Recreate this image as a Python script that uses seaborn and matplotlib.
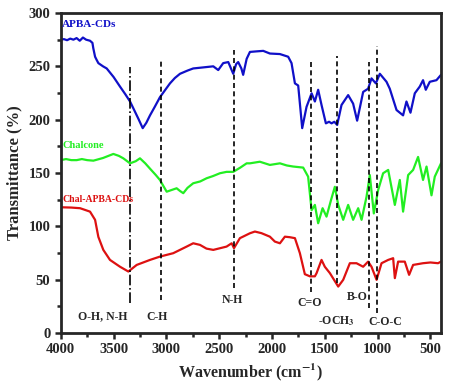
import matplotlib
matplotlib.use("Agg")
import matplotlib.pyplot as plt
from matplotlib.ticker import MultipleLocator
import pandas as pd
import seaborn as sns

# APBA-CDs (blue)
apba_wn = [4000, 3970, 3940, 3910, 3880, 3850, 3820, 3790, 3760, 3723, 3700, 3692,
           3675, 3660, 3644, 3600, 3565, 3500, 3439, 3390, 3344, 3300, 3266, 3224,
           3190, 3155, 3110, 3061, 3010, 2966, 2920, 2871, 2800, 2746, 2650, 2556,
           2509, 2462, 2414, 2367, 2340, 2320, 2290, 2273, 2240, 2209, 2150, 2083,
           2020, 1925, 1847, 1815, 1783, 1752, 1714, 1673, 1625, 1594, 1563, 1531,
           1490, 1460, 1436, 1410, 1383, 1342, 1279, 1232, 1194, 1137, 1090, 1058,
           1017, 979, 916, 885, 821, 759, 727, 689, 648, 601, 570, 544, 506, 443, 400]
apba_t = [275, 275.5, 274.5, 276, 275, 276.5, 274, 277, 275, 274, 272, 267,
          259, 256, 253, 250, 248, 240, 231, 224, 217, 208, 201, 192,
          197, 204, 212, 221, 228, 234, 239, 243, 246, 248, 249, 250,
          246.5, 253, 254, 243, 252, 254, 248, 242, 257, 263.5, 264, 264.5,
          262, 261.5, 259, 253, 234, 232, 192, 212, 224.7, 217, 228, 213.7,
          196.5, 198, 196.5, 198, 195, 213.7, 223, 215, 199, 226, 229, 238.7,
          234, 243, 235.5, 229, 209, 204, 217, 206.5, 224.7, 231, 237, 228, 235.5, 237, 242]

# Chalcone (green)
chal_wn = [4000, 3950, 3900, 3849, 3800, 3750, 3691, 3600, 3502, 3450, 3408, 3344,
           3290, 3250, 3200, 3155, 3100, 3061, 3030, 2997, 2950, 2903, 2870, 2840,
           2800, 2746, 2680, 2619, 2560, 2493, 2430, 2367, 2300, 2240, 2209, 2115,
           2020, 1925, 1860, 1800, 1705, 1658, 1625, 1594, 1563, 1521, 1484, 1440,
           1405, 1373, 1326, 1279, 1232, 1184, 1152, 1105, 1074, 1036, 995, 948,
           900, 837, 790, 759, 711, 664, 617, 570, 537, 490, 459, 400]
chal_t = [162, 163, 162, 162, 163, 162, 161.5, 164, 167.8, 166, 163.7, 159,
          161, 163.7, 159, 154, 148, 143.4, 138, 132.4, 134, 135.6, 133, 131,
          136, 140.3, 142, 145, 147, 149.7, 151, 151, 155, 159, 159, 160.5,
          157.5, 159, 157, 156, 155, 146.5, 115, 120, 102.8, 116.9, 109, 125,
          137, 120, 106, 120, 106, 116.9, 106, 127.7, 148, 112, 134, 149.7,
          152.8, 120, 143.4, 113.7, 148, 152.8, 165, 143.4, 156, 129, 146.5, 159]

# Chal-APBA-CDs (red)
conj_wn = [4000, 3900, 3817, 3723, 3675, 3644, 3597, 3534, 3439, 3360, 3281, 3155,
           3061, 2935, 2808, 2746, 2682, 2620, 2556, 2430, 2382, 2360, 2304, 2209,
           2162, 2100, 2020, 1973, 1925, 1878, 1831, 1783, 1736, 1689, 1641, 1594,
           1578, 1531, 1500, 1452, 1373, 1326, 1263, 1200, 1137, 1090, 1058, 1010,
           963, 900, 853, 837, 806, 743, 702, 664, 570, 500, 428, 400]
conj_t = [117.8, 117.5, 116.9, 113.7, 106, 90, 77.8, 68.4, 62, 57.5, 63.7, 68.4,
          71.5, 74.7, 80.9, 84, 82.5, 79, 77.8, 80.9, 84, 79.4, 88.8, 93.4,
          95, 93.5, 90.2, 85.6, 84, 90.2, 89.7, 88.8, 74.7, 55, 53, 53,
          56, 68.4, 62, 56, 43.4, 49.7, 65.3, 65.3, 62, 66.8, 62, 49.7,
          65.3, 68.4, 70, 51.3, 66.8, 66.8, 54.4, 63.7, 65.3, 66, 65.3, 66.8]

# band marker lines
band_wn = [3340, 3050, 2360, 1632, 1380, 1080, 1007]
band_top = [249, 255, 265, 256, 260, 254, 269]
band_bottom = [28, 31, 42, 38, 47, 23, 19]
band_style = ["-.", (0, (3, 2)), (0, (3, 2)), (0, (3, 2)), (0, (3, 2)), (0, (3, 2)), (0, (3, 2))]

# band labels
label_text = ["O-H, N-H", "C-H", "N-H", "C=O", "-OCH$_\\mathbf{3}$", "B-O", "C-O-C"]
label_wn = [3604, 3092, 2375, 1642, 1386, 1192, 932]
label_t = [15.3, 15.3, 31, 28, 10.6, 34, 10.6]

series_names = ["APBA-CDs", "Chalcone", "Chal-APBA-CDs"]
series_colors = ["#1010c8", "#22ee22", "#dd1111"]
series_label_t = [289, 175.5, 125]
series_label_size = [8, 7.5, 7]

sns.set_style("ticks")
plt.rcParams["font.family"] = ["Liberation Serif", "DejaVu Serif"]
plt.rcParams["font.weight"] = "bold"
plt.rcParams["mathtext.fontset"] = "stix"

fig = plt.figure(figsize=(4.5, 3.83), dpi=100)
ax = fig.add_axes([0.135, 0.131, 0.845, 0.835])

data = [(apba_wn, apba_t), (chal_wn, chal_t), (conj_wn, conj_t)]
for (wn, t), name, col in zip(data, series_names, series_colors):
    df = pd.DataFrame({"wn": wn, "t": t})
    sns.lineplot(data=df, x="wn", y="t", sort=False, color=col, lw=1.6, ax=ax)

for w, top, bot, ls in zip(band_wn, band_top, band_bottom, band_style):
    ax.plot([w, w], [bot, top], color="black", lw=1.2, linestyle=ls)

for txt, w, t in zip(label_text, label_wn, label_t):
    ax.text(w, t, txt, ha="center", va="center", fontsize=8.5, fontweight="bold")

for name, col, t, fs in zip(series_names, series_colors, series_label_t, series_label_size):
    ax.text(3985, t, name, color=col, ha="left", va="center", fontsize=fs, fontweight="bold")

ax.set_xlim(4000, 400)
ax.set_ylim(0, 300)
ax.xaxis.set_major_locator(MultipleLocator(500))
ax.xaxis.set_minor_locator(MultipleLocator(250))
ax.yaxis.set_major_locator(MultipleLocator(50))
ax.yaxis.set_minor_locator(MultipleLocator(25))
ax.tick_params(which="both", direction="out", width=1.8, labelsize=10.5)
ax.tick_params(which="major", length=4)
ax.tick_params(which="minor", length=3)
for lab in ax.get_xticklabels() + ax.get_yticklabels():
    lab.set_fontweight("bold")
for sp in ax.spines.values():
    sp.set_linewidth(2.0)

ax.set_xlabel("Wavenumber (cm$^{\\mathbf{-1}}$)", fontsize=11.5, fontweight="bold", labelpad=4)
ax.set_ylabel("Transmittance (%)", fontsize=12, fontweight="bold", labelpad=4)

fig.savefig("out.png", dpi=100)
